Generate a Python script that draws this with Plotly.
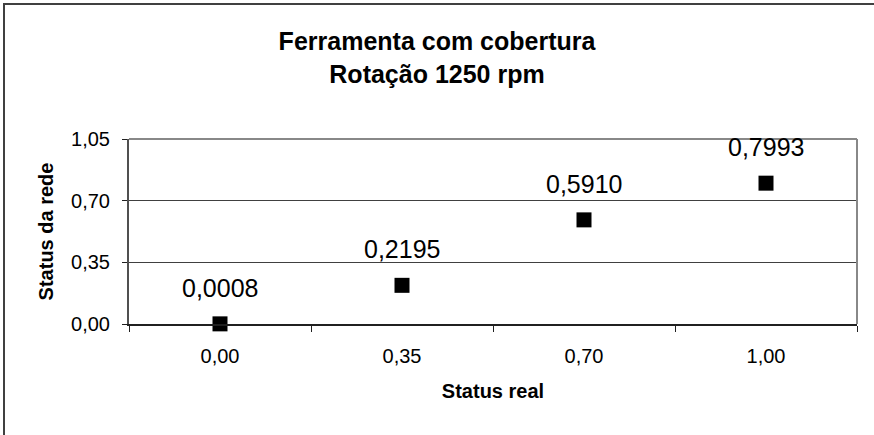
import plotly.graph_objects as go

categories = ["0,00", "0,35", "0,70", "1,00"]
values = [0.0008, 0.2195, 0.5910, 0.7993]
y_ticks = [0.0, 0.35, 0.70, 1.05]
y_tick_labels = ["0,00", "0,35", "0,70", "1,05"]
title_lines = ["Ferramenta com cobertura", "Rotação 1250 rpm"]
x_title = "Status real"
y_title = "Status da rede"

FONT = "Liberation Sans, Arial, sans-serif"
W, H = 874, 435
L, R, T, B = 129, 17, 139, 111
pw, ph = W - L - R, H - T - B


def px_x(p):
    return (p - L) / pw


def px_y(p):
    return (H - B - p) / ph


def fmt(v):
    return f"{v:.4f}".replace(".", ",")


fig = go.Figure()
fig.add_trace(go.Scatter(
    x=categories, y=values, mode="markers",
    marker=dict(symbol="square", size=15, color="black"),
    hoverinfo="skip", showlegend=False, cliponaxis=False,
))

for c, v in zip(categories, values):
    fig.add_annotation(x=c, y=v, text=fmt(v), showarrow=False,
                       yanchor="middle", yshift=36,
                       font=dict(family=FONT, size=25, color="black"))

fig.update_layout(
    width=W, height=H,
    margin=dict(l=L, r=R, t=T, b=B),
    paper_bgcolor="white", plot_bgcolor="white",
    font=dict(family=FONT, color="black"),
    title=dict(text="<br>".join(f"<b>{t}</b>" for t in title_lines),
               x=0.5, xref="container", xanchor="center",
               y=1 - 50 / H, yref="container", yanchor="middle",
               font=dict(family=FONT, size=25, color="black")),
    xaxis=dict(type="category", categoryorder="array", categoryarray=categories,
               range=[-0.5, 3.5], tickson="boundaries", ticks="outside",
               ticklen=6, tickcolor="#202020", tickwidth=1,
               showline=True, linecolor="#202020", linewidth=2,
               showgrid=False, zeroline=False,
               tickfont=dict(family=FONT, size=20, color="black"),
               ticklabelstandoff=13,
               title=dict(text=f"<b>{x_title}</b>", standoff=18,
                          font=dict(family=FONT, size=20, color="black"))),
    yaxis=dict(range=[0, 1.05], tickvals=y_ticks, ticktext=y_tick_labels,
               ticks="outside", ticklen=5, tickcolor="#202020", tickwidth=1,
               showline=True, linecolor="#505050", linewidth=2,
               showgrid=True, gridcolor="#404040", gridwidth=1,
               zeroline=False,
               tickfont=dict(family=FONT, size=20, color="black"),
               ticklabelstandoff=8,
               title=dict(text=f"<b>{y_title}</b>", standoff=12,
                          font=dict(family=FONT, size=20, color="black"))),
    shapes=[
        dict(type="line", xref="paper", yref="paper", x0=0, x1=1, y0=1, y1=1,
             line=dict(color="#888888", width=2), layer="above"),
        dict(type="line", xref="paper", yref="paper", x0=1, x1=1, y0=0, y1=1,
             line=dict(color="#888888", width=2), layer="above"),
        dict(type="rect", xref="paper", yref="paper",
             x0=px_x(4), x1=px_x(W + 10), y0=px_y(H + 10), y1=px_y(4),
             line=dict(color="#404040", width=2), fillcolor="rgba(0,0,0,0)",
             layer="above"),
    ],
)

fig.write_html("out.html")
